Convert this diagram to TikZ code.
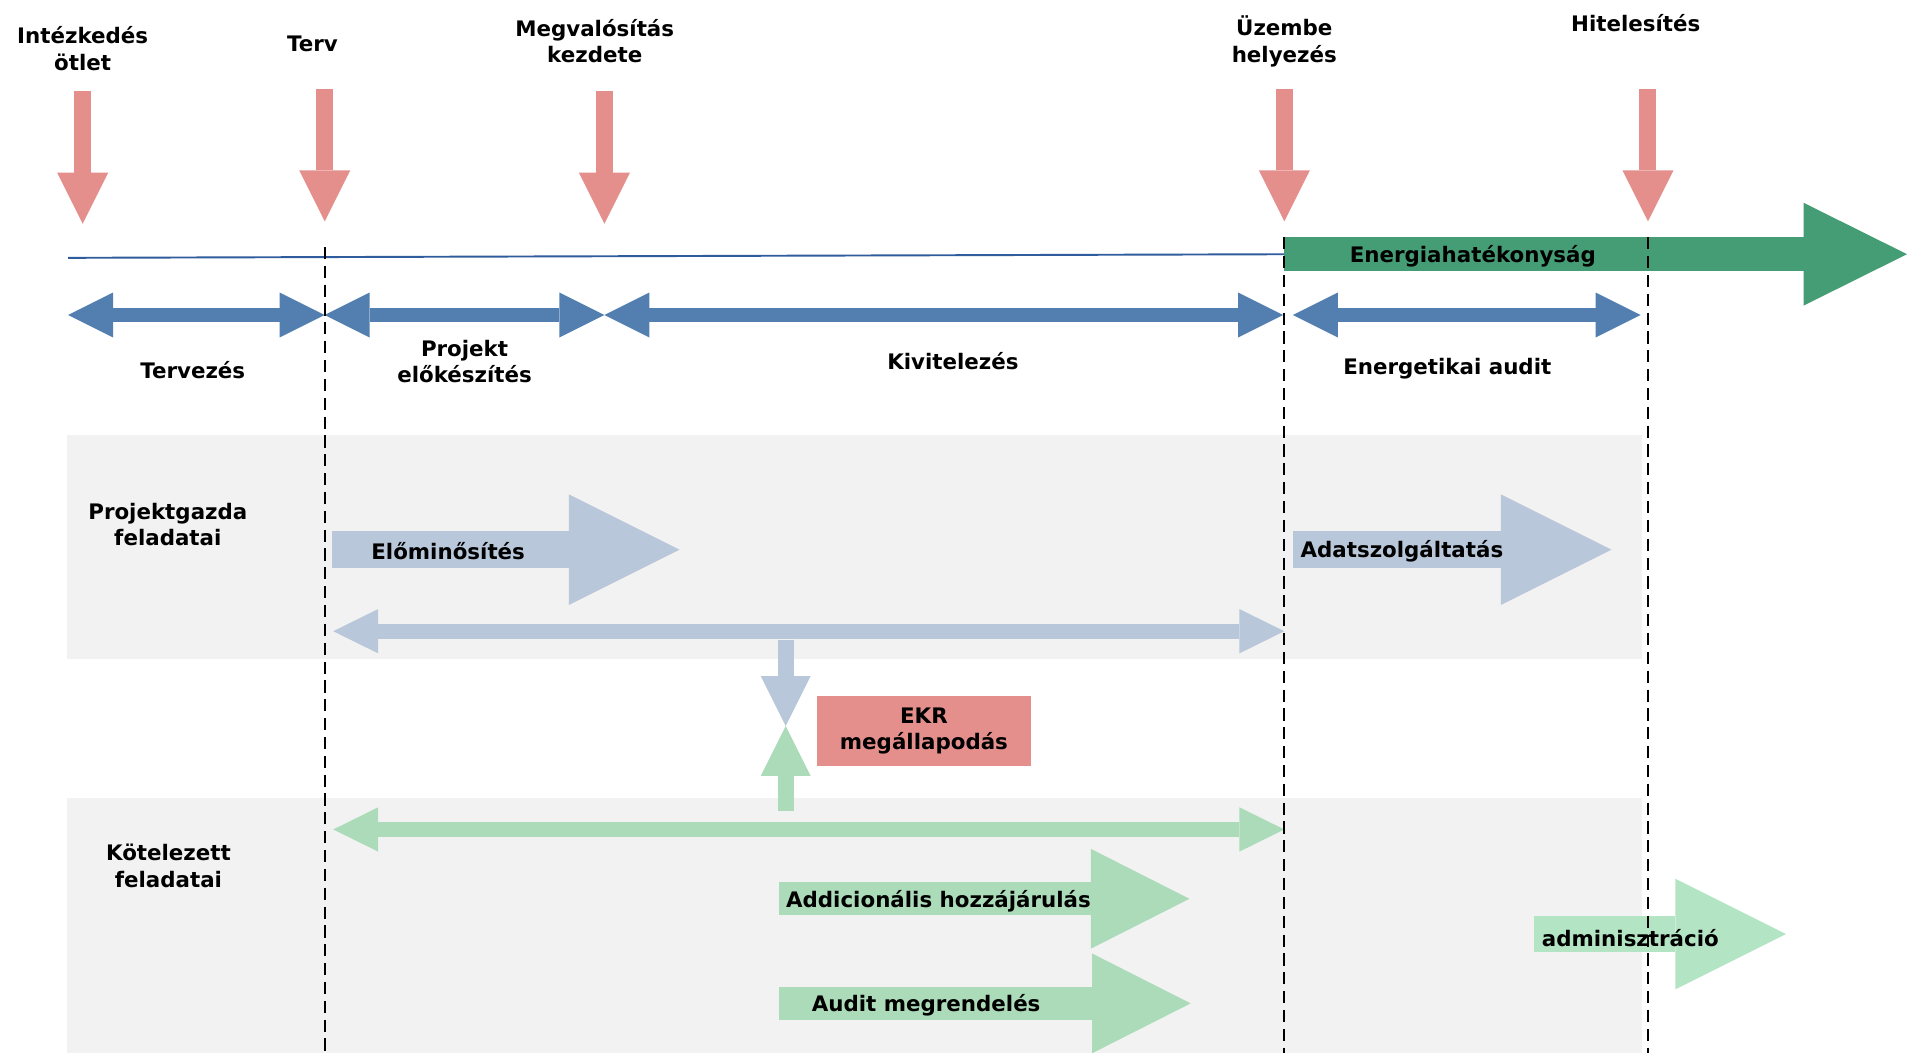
\documentclass[tikz,border=0pt]{standalone}
\usepackage{fontspec}
\setmainfont{DejaVu Sans}
\usetikzlibrary{arrows.meta}

\definecolor{msred}{HTML}{E48F8C}
\definecolor{phaseblue}{HTML}{527FAF}
\definecolor{taskblue}{HTML}{B8C7D9}
\definecolor{taskgreen}{HTML}{ACDBB9}
\definecolor{admingreen}{HTML}{B3E4C3}
\definecolor{effgreen}{HTML}{459D76}
\definecolor{bandgray}{HTML}{F2F2F2}
\definecolor{axisblue}{HTML}{2F5C9C}

\tikzset{
  lbl/.style={align=center, inner sep=0pt},
  milestone/.style={msred, line width=0.28cm,
    -{Triangle[length=0.84cm, width=0.84cm, line width=0pt]}},
  phase/.style={phaseblue, line width=0.245cm,
    {Triangle[length=0.74cm, width=0.74cm, line width=0pt]}-{Triangle[length=0.74cm, width=0.74cm, line width=0pt]}},
  span/.style={line width=0.246cm,
    {Triangle[length=0.74cm, width=0.73cm, line width=0pt]}-{Triangle[length=0.74cm, width=0.73cm, line width=0pt]}},
  link/.style={line width=0.26cm,
    -{Triangle[length=0.82cm, width=0.82cm, line width=0pt]}},
  task/.style={line width=0.6cm,
    -{Triangle[length=1.82cm, width=1.82cm, line width=0pt]}},
  subtask/.style={taskgreen, line width=0.54cm,
    -{Triangle[length=1.62cm, width=1.64cm, line width=0pt]}},
  effect/.style={effgreen, line width=0.56cm,
    -{Triangle[length=1.70cm, width=1.69cm, line width=0pt]}},
  cut/.style={black, line width=1.1pt, dash pattern=on 0.2cm off 0.11cm},
}

\begin{document}
\begin{tikzpicture}[x=0.02cm, y=-0.02cm, font=\bfseries\fontsize{10}{12.3}\selectfont]

\useasboundingbox (0,0) rectangle (1568,866);

% swimlanes
\fill[bandgray] (55,358) rectangle (1350,542);
\fill[bandgray] (55,656) rectangle (1350,866);

% time axis
\coordinate (axis-start) at (56,212);
\coordinate (axis-end) at (1068,209);
\draw[axisblue, line width=0.9pt] (axis-start) -- (axis-end);

\coordinate (eff-start) at (1056,209);
\coordinate (eff-end) at (1568,209);
\draw[effect] (eff-start) -- (eff-end);
\node[lbl] (eff-lbl) at (1211,211) {Energiahatékonyság};

% milestones
\foreach \x/\t/\b [count=\i] in {68/75/184, 267/73/182, 497/75/184, 1056/73/182, 1355/73/182} {
  \coordinate (ms-\i) at (\x,\t);
  \coordinate (ms-\i-tip) at (\x,\b);
  \draw[milestone] (ms-\i) -- (ms-\i-tip);
}

\node[lbl] (ms-lbl-1) at (68,40) {Intézkedés\\ötlet};
\node[lbl] (ms-lbl-2) at (257,36) {Terv};
\node[lbl] (ms-lbl-3) at (489,34) {Megvalósítás\\kezdete};
\node[lbl] (ms-lbl-4) at (1056,34) {Üzembe\\helyezés};
\node[lbl] (ms-lbl-5) at (1345,19) {Hitelesítés};

% phases
\foreach \a/\b [count=\i] in {56/267, 267/497, 497/1055, 1063/1349} {
  \coordinate (ph-\i-a) at (\a,259);
  \coordinate (ph-\i-b) at (\b,259);
  \draw[phase] (ph-\i-a) -- (ph-\i-b);
}

\node[lbl] (ph-lbl-1) at (158.5,304) {Tervezés};
\node[lbl] (ph-lbl-2) at (382,297) {Projekt\\előkészítés};
\node[lbl] (ph-lbl-3) at (783.5,297) {Kivitelezés};
\node[lbl] (ph-lbl-4) at (1190,303.5) {Energetikai audit};

% lanes
\node[lbl] (owner) at (138,431) {Projektgazda\\feladatai};
\node[lbl] (obliged) at (138.5,712) {Kötelezett\\feladatai};

\coordinate (owner-a) at (274,519);
\coordinate (owner-b) at (1056,519);
\draw[span, taskblue] (owner-a) -- (owner-b);

\coordinate (obliged-a) at (274,682);
\coordinate (obliged-b) at (1056,682);
\draw[span, taskgreen] (obliged-a) -- (obliged-b);

\coordinate (down-top) at (646,526);
\coordinate (meet) at (646,597);
\coordinate (up-bottom) at (646,667);
\draw[link, taskblue] (down-top) -- (meet);
\draw[link, taskgreen] (up-bottom) -- (meet);

\node[lbl, fill=msred, minimum width=3.52cm, minimum height=1.14cm]
  (ekr) at (759.7,601) {EKR\\megállapodás};

% tasks
\coordinate (pre-a) at (273,452);
\coordinate (pre-b) at (558.7,452);
\draw[task, taskblue] (pre-a) -- (pre-b);

\coordinate (data-a) at (1063,452);
\coordinate (data-b) at (1325,452);
\draw[task, taskblue] (data-a) -- (data-b);

\coordinate (add-a) at (640.8,739);
\coordinate (add-b) at (978,739);
\draw[subtask] (add-a) -- (add-b);

\coordinate (aud-a) at (640.8,825);
\coordinate (aud-b) at (979,825);
\draw[subtask] (aud-a) -- (aud-b);

\coordinate (adm-a) at (1261,768);
\coordinate (adm-b) at (1468.5,768);
\draw[task, admingreen] (adm-a) -- (adm-b);

% cut lines
\coordinate (cut-1) at (267,203);
\coordinate (cut-1-end) at (267,866);
\coordinate (cut-2) at (1056,195);
\coordinate (cut-2-end) at (1056,866);
\coordinate (cut-3) at (1355,195);
\coordinate (cut-3-end) at (1355,866);
\foreach \i in {1,2,3}
  \draw[cut] (cut-\i) -- (cut-\i-end);

\node[lbl, anchor=west] (pre-lbl) at (305,453.5) {Előminősítés};
\node[lbl, anchor=west] (data-lbl) at (1069,453) {Adatszolgáltatás};
\node[lbl, anchor=west] (add-lbl) at (646,741) {Addicionális hozzájárulás};
\node[lbl] (aud-lbl) at (761.5,826.5) {Audit megrendelés};
\node[lbl] (adm-lbl) at (1340.5,771) {adminisztráció};

\end{tikzpicture}
\end{document}
